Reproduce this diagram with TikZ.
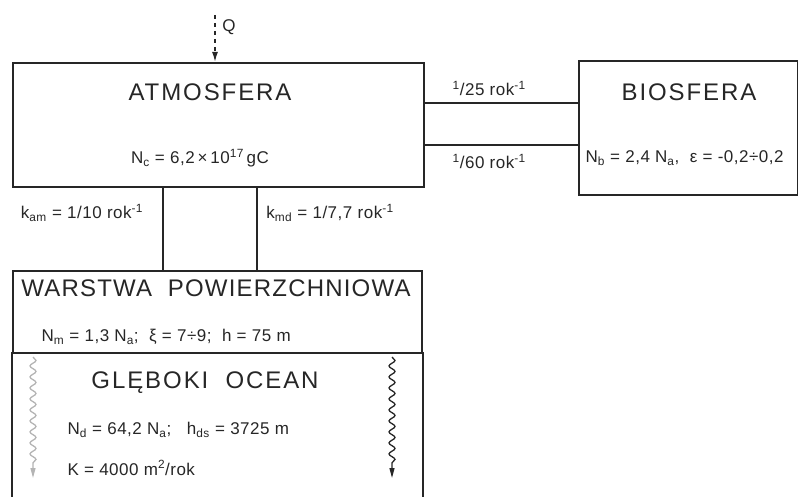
\documentclass[tikz,border=0pt]{standalone}
\usepackage{fontspec}
\setmainfont{Liberation Sans}
\usepackage{tikz}
\usetikzlibrary{calc,positioning,arrows.meta,decorations.pathmorphing}
\usepackage{xcolor}
\definecolor{inkgray}{HTML}{262626}
\definecolor{fadegray}{HTML}{B4B4B4}
\newfontfamily\titlefont{Liberation Sans}[LetterSpace=8]
\newfontfamily\narrowtitlefont{Liberation Sans}[LetterSpace=5]
\newfontfamily\datafont{Liberation Sans}[LetterSpace=3]

\begin{document}
\begin{tikzpicture}[
      x=1pt, y=-1pt,
      every node/.style={text=inkgray},
      box/.style={
        draw=inkgray, line width=2pt,
        inner sep=0pt,
        anchor=north west
      },
      title/.style={font=\titlefont\fontsize{24}{28}\selectfont},
      data/.style={font=\datafont\fontsize{17}{20}\selectfont},
      link/.style={draw=inkgray, line width=1.5pt},
      wave/.style={
        line width=1.3pt,
        decorate,
        decoration={snake, amplitude=3pt, segment length=11pt, post length=12pt},
        -{Triangle[width=5pt, length=10pt]}
      }
    ]
      \useasboundingbox (0,0) rectangle (798,497);
      \node[box, minimum width=411pt, minimum height=124pt] (atm) at (12,62) {};
      \node[box, minimum width=219pt, minimum height=134pt] (bio) at (578,60) {};
      \node[box, minimum width=409pt, minimum height=82pt] (surf) at (12,270) {};
      \node[box, draw=none, minimum width=409pt, minimum height=145pt] (deep) at (12,352) {};
      \draw[link, line width=2pt] (deep.north west) -- (deep.south west);
      \draw[link, line width=2pt] (deep.north east) -- (deep.south east);

      \node[title] (atmname) at (210,92) {ATMOSFERA};
      \node[data] (atmdata) at (200,158) {N\textsubscript{c} = 6,2\,×\,10\textsuperscript{17}\,gC};
      \node[title] (bioname) at (689,92) {BIOSFERA};
      \node[data, anchor=west] (biodata) at (582,158) {N\textsubscript{b} = 2,4 N\textsubscript{a}, \ ε = -0,2÷0,2};
      \node[title, font=\narrowtitlefont\fontsize{24}{28}\selectfont] (surfname) at (216,288) {WARSTWA \ POWIERZCHNIOWA};
      \node[data, anchor=west] (surfdata) at (38,337) {N\textsubscript{m} = 1,3 N\textsubscript{a}; \ ξ = 7÷9; \ h = 75 m};
      \node[title] (deepname) at (205,383) {GLĘBOKI \ OCEAN};
      \node[data, anchor=west] (deepdata) at (64,430) {N\textsubscript{d} = 64,2 N\textsubscript{a}; \ \ h\textsubscript{ds} = 3725 m};
      \node[data, anchor=west] (deepdiff) at (64,468) {K = 4000 m\textsuperscript{2}/rok};

      \coordinate (qtop) at (215,15);
      \draw[link, dash pattern=on 4pt off 4pt, -{Latex[length=10pt, width=6pt]}] (qtop) -- (qtop |- atm.north);
      \node[data] (qname) at (229,27) {Q};

      \draw[link] (423,103 -| atm.east) -- (578,103 -| bio.west)
        node[data, pos=0.42, above=3pt] (uplabel) {\textsuperscript{1}/25 rok\textsuperscript{-1}};
      \draw[link] (423,145 -| atm.east) -- (578,145 -| bio.west)
        node[data, pos=0.42, below=5pt] (downlabel) {\textsuperscript{1}/60 rok\textsuperscript{-1}};

      \draw[link] (163,0 |- atm.south) -- (163,0 |- surf.north);
      \draw[link] (257,0 |- atm.south) -- (257,0 |- surf.north);
      \node[data] (kam) at (82,213) {k\textsubscript{am} = 1/10 rok\textsuperscript{-1}};
      \node[data] (kmd) at (330,213) {k\textsubscript{md} = 1/7,7 rok\textsuperscript{-1}};

      \coordinate (lwtop) at (33,357);
      \coordinate (lwend) at (33,478);
      \coordinate (rwtop) at (392,357);
      \coordinate (rwend) at (392,478);
      \draw[wave, fadegray] (lwtop) -- (lwend);
      \draw[wave, inkgray] (rwtop) -- (rwend);
    \end{tikzpicture}
\end{document}
